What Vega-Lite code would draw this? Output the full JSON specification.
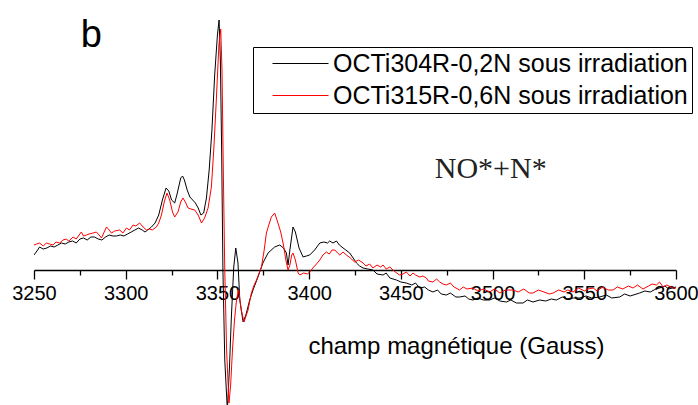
{
  "$schema": "https://vega.github.io/schema/vega-lite/v6.json",
  "width": 642,
  "height": 405,
  "autosize": {"type": "none"},
  "padding": {"left": 34, "top": 0, "right": 22, "bottom": 0},
  "background": "white",
  "config": {"view": {"stroke": null}, "font": "Liberation Sans"},
  "datasets": {
    "black": [
      [3250,15],[3252,20],[3253,23],[3255,21],[3257,22],[3259,24],[3261,23],[3263,25],[3265,27],[3267,26],[3269,28],[3271,29],[3273,27],[3275,31],[3277,32],[3279,30],[3281,33],[3283,33],[3285,31],[3287,30],[3289,33],[3291,35],[3293,34],[3295,34],[3297,35],[3299,34],[3301,36],[3303,38],[3305,40],[3307,42],[3309,40],[3310.5,38],[3312,40],[3314,43],[3316,47],[3318,55],[3320,70],[3322,82],[3323.5,79],[3325,70],[3326.7,67],[3328,76],[3330,92],[3331,94],[3332,90],[3333.5,80],[3335,73],[3336.5,70],[3338,67],[3339.5,62],[3341,55],[3342.5,57],[3344,72],[3345.5,100],[3347,140],[3348.5,195],[3350,235],[3350.9,250],[3351.6,210],[3352.3,120],[3353,0],[3354,-90],[3355.4,-140],[3356.5,-100],[3357.6,-47],[3358.9,3],[3360,22],[3361.2,7],[3362.2,-30],[3364,-52],[3365.5,-45],[3367.6,-30],[3369.4,-20],[3372.1,-7],[3374.8,7],[3377.6,17],[3381.2,23],[3384,25],[3386,22],[3387.6,17],[3388.5,5],[3389.5,20],[3391.2,43],[3392.5,38],[3394.5,22],[3396.7,13],[3398.5,14],[3400.3,15],[3403,20],[3405.8,27],[3408,28],[3410,27],[3411.2,29],[3413,27],[3414.9,29],[3416.5,25],[3418.5,22],[3420,20],[3422.1,17],[3424,12],[3425.8,7],[3427.5,4],[3429.4,2],[3432,1],[3434.8,0],[3437,-4],[3440.3,-5],[3442,-3],[3444,-8],[3447.6,-10],[3450,-12],[3453,-13],[3456,-15],[3458,-13],[3460.3,-18],[3463,-17],[3465,-20],[3467.5,-22],[3470,-20],[3472,-24],[3474.8,-25],[3477,-23],[3480,-27],[3482,-27],[3485,-26],[3487,-29],[3489.3,-30],[3492,-28],[3495,-30],[3498.4,-30],[3501,-28],[3504,-31],[3507.5,-32],[3510,-30],[3513,-33],[3516.6,-33],[3519,-30],[3522,-32],[3525.7,-30],[3529,-31],[3532,-29],[3534.8,-30],[3538,-27],[3541,-29],[3544,-28],[3547.5,-28],[3551,-26],[3554,-28],[3558.4,-27],[3562,-25],[3565,-28],[3569.3,-27],[3572,-24],[3575,-26],[3580.2,-23],[3583,-21],[3586,-22],[3589,-19],[3591.1,-18],[3594,-16],[3596,-19],[3600,-17]
    ],
    "red": [
      [3250,25],[3251.5,26],[3253,27],[3255,24],[3256.8,27],[3258.5,26],[3260.4,25],[3262,28],[3264,27],[3265.8,30],[3267.5,31],[3269,29],[3271.3,33],[3273,31],[3275.8,38],[3277,34],[3278.6,35],[3280,36],[3282.2,37],[3284,38],[3285.5,35],[3286.8,32],[3289.5,43],[3291,40],[3292.2,37],[3294,39],[3296.7,40],[3298.5,37],[3300.4,42],[3302,40],[3304,45],[3305.5,44],[3307.6,47],[3309.5,43],[3311.3,40],[3313,41],[3314.5,40],[3316.7,43],[3318,47],[3319.5,55],[3321,68],[3322.5,77],[3324,70],[3325.5,58],[3326.7,53],[3328.5,58],[3330,68],[3331.2,72],[3332.5,68],[3334,62],[3335.5,61],[3337.6,60],[3339.5,55],[3341.3,47],[3343,52],[3344.9,62],[3346.7,83],[3348,120],[3349.4,170],[3350.8,225],[3351.8,241],[3352.5,200],[3353.2,100],[3354,0],[3355,-80],[3356.3,-133],[3357.2,-115],[3358.2,-80],[3359.3,-50],[3360.4,-30],[3361.6,-20],[3363,-40],[3364.5,-52],[3366.7,-40],[3368.5,-23],[3370,-15],[3371.3,-10],[3374,3],[3375.5,20],[3376.7,37],[3378,45],[3379.4,53],[3381.2,57],[3383,47],[3384.5,38],[3386,25],[3387.3,10],[3388.5,0],[3389.5,5],[3390.5,15],[3391.2,17],[3392.5,10],[3394,-3],[3394.9,-5],[3397,-3],[3399,-4],[3400.3,-2],[3402,2],[3404,6],[3405.8,10],[3407.5,15],[3409.4,18],[3411,16],[3412.5,20],[3414,20],[3415.5,17],[3416.7,15],[3418.5,18],[3420.3,15],[3422.5,12],[3424.8,8],[3427,10],[3429.4,7],[3431,4],[3433,6],[3434.8,2],[3437,5],[3439,3],[3440.3,5],[3442,1],[3444,3],[3445.7,0],[3447,-2],[3449.3,-5],[3451.2,-4],[3453,-2],[3455,-6],[3456.6,-3],[3458,-5],[3460.3,-7],[3462,-6],[3463.9,-8],[3465,-11],[3467.5,-12],[3469.5,-9],[3471.2,-12],[3473,-14],[3474.8,-15],[3477,-13],[3479,-17],[3482,-20],[3484,-17],[3486,-19],[3489.3,-18],[3492,-21],[3495,-19],[3498.4,-22],[3501,-19],[3504,-23],[3507,-20],[3511.1,-20],[3514,-22],[3517,-19],[3520,-23],[3522,-23],[3525,-20],[3528,-22],[3531,-24],[3533,-23],[3536,-20],[3539,-22],[3541,-20],[3543.9,-22],[3547,-18],[3550,-21],[3552,-19],[3554.8,-18],[3557,-21],[3560,-17],[3563,-20],[3565.7,-20],[3568,-17],[3571,-19],[3574,-16],[3576.6,-18],[3579,-15],[3582,-19],[3585,-16],[3587,-14],[3589.3,-15],[3591,-12],[3593,-17],[3595,-15],[3598.4,-18],[3600,-18]
    ],
    "labels": [
      {"label": "b"},
      {"label": "NO*+N*"}
    ]
  },
  "layer": [
    {
      "data": {"name": "black"},
      "transform": [
        {"calculate": "datum[0]", "as": "champ"},
        {"calculate": "datum[1]", "as": "signal"},
        {"calculate": "'OCTi304R-0,2N sous irradiation'", "as": "serie"}
      ],
      "mark": {"type": "line", "clip": true, "strokeWidth": 1},
      "encoding": {
        "x": {"field": "champ", "type": "quantitative", "scale": {"domain": [3250, 3600], "nice": false, "zero": false},
          "axis": {"orient": "bottom", "offset": -135, "values": [3250,3275,3300,3325,3350,3375,3400,3425,3450,3475,3500,3525,3550,3575,3600],
            "labelExpr": "datum.value % 50 === 0 ? format(datum.value, 'd') : ''",
            "tickSize": {"condition": {"test": "datum.value % 50 !== 0", "value": 5}, "value": 9},
            "domainColor": "black", "tickColor": "black", "domainWidth": 1.3, "tickWidth": 1.3,
            "labelFontSize": 20, "labelFont": "Liberation Sans", "labelColor": "black", "labelPadding": 4, "labelFlush": false, "labelOverlap": false,
            "grid": false,
            "title": "champ magnétique (Gauss)", "titleFont": "Liberation Sans", "titleFontSize": 24, "titleFontWeight": "normal", "titleColor": "black",
            "titleX": 422, "titleY": 83, "titleAlign": "center", "titleBaseline": "alphabetic", "titleAnchor": null}},
        "y": {"field": "signal", "type": "quantitative", "scale": {"domain": [-135, 270], "nice": false, "zero": false}, "axis": null},
        "color": {"field": "serie", "type": "nominal",
          "scale": {"domain": ["OCTi304R-0,2N sous irradiation", "OCTi315R-0,6N sous irradiation"], "range": ["#000000", "#ff0000"]},
          "legend": {"orient": "none", "legendX": 219, "legendY": 47, "title": null,
            "symbolType": "M-2.8,0H2.8", "symbolSize": 400, "symbolStrokeWidth": 1, "symbolOffset": 31,
            "labelFont": "Liberation Sans", "labelFontSize": 25, "labelColor": "black", "labelOffset": 20, "labelLimit": 0,
            "rowPadding": 6, "padding": 4, "strokeColor": "black", "fillColor": "white"}}
      }
    },
    {
      "data": {"name": "red"},
      "transform": [
        {"calculate": "datum[0]", "as": "champ"},
        {"calculate": "datum[1]", "as": "signal"},
        {"calculate": "'OCTi315R-0,6N sous irradiation'", "as": "serie"}
      ],
      "mark": {"type": "line", "clip": true, "strokeWidth": 1},
      "encoding": {
        "x": {"field": "champ", "type": "quantitative"},
        "y": {"field": "signal", "type": "quantitative"},
        "color": {"field": "serie", "type": "nominal"}
      }
    },
    {
      "data": {"name": "labels"},
      "transform": [{"filter": "datum.label === 'NO*+N*'"}],
      "mark": {"type": "text", "font": "Liberation Serif", "fontSize": 30, "align": "center", "baseline": "alphabetic", "color": "#222222"},
      "encoding": {
        "text": {"field": "label"},
        "x": {"datum": 3499, "type": "quantitative"},
        "y": {"datum": 92, "type": "quantitative"}
      }
    },
    {
      "data": {"name": "labels"},
      "transform": [{"filter": "datum.label === 'b'"}],
      "mark": {"type": "text", "font": "Liberation Sans", "fontSize": 38, "align": "left", "baseline": "alphabetic", "color": "black"},
      "encoding": {
        "text": {"field": "label"},
        "x": {"datum": 3275.5, "type": "quantitative"},
        "y": {"datum": 223, "type": "quantitative"}
      }
    }
  ]
}
